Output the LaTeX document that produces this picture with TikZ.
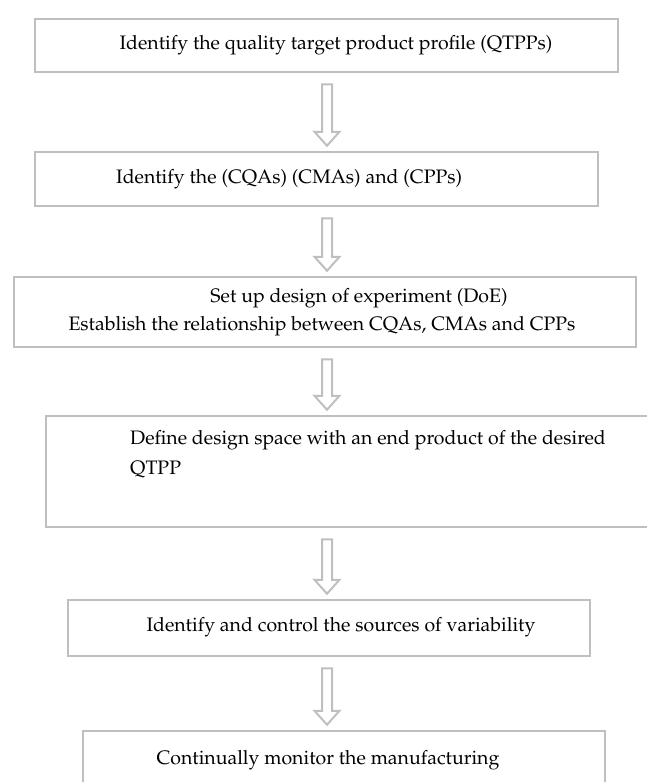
\documentclass[tikz,border=0pt]{standalone}
\usepackage[T1]{fontenc}
\usepackage{mathpazo}
\usetikzlibrary{calc}

\newcommand{\flowarrow}[2]{%
  \draw[arrowline] ($(#1.south -| axis)+(-5,11)$) -- ($(#2.north -| axis)+(-5,-19)$)
    -- ++(-7.5,0) -- ($(#2.north -| axis)+(0,-5)$) -- ++(12.5,-14) -- ++(-7.5,0)
    -- ($(#1.south -| axis)+(5,11)$) -- cycle;}

\begin{document}
\begin{tikzpicture}[x=1pt,y=-1pt,font=\fontsize{19.5}{23}\selectfont,
    flowbox/.style={draw=black!25,line width=2.5pt,inner sep=0pt},
    arrowline/.style={draw=black!25,line width=2pt,line join=miter},
    boxtext/.style={inner sep=0pt,text=black}]
  \useasboundingbox (0,0) rectangle (646,782);
  \coordinate (axis) at (327,0);
  \node[flowbox,minimum width=583,minimum height=53] (b1) at (326.5,45.5) {};
  \node[flowbox,minimum width=563,minimum height=54] (b2) at (316.5,179) {};
  \node[flowbox,minimum width=622,minimum height=70] (b3) at (325,312) {};
  \node[flowbox,minimum width=614,minimum height=111] (b4) at (353,471.5) {};
  \node[flowbox,minimum width=522,minimum height=56] (b5) at (329,628) {};
  \node[flowbox,minimum width=522,minimum height=69] (b6) at (344,765.5) {};
  \node[boxtext] (t1) at (336,45) {Identify the quality target product profile (QTPPs)};
  \node[boxtext,anchor=west] (t2) at (116,179) {Identify the (CQAs) (CMAs) and (CPPs)};
  \node[boxtext] (t3a) at (359,298) {Set up design of experiment (DoE)};
  \node[boxtext] (t3b) at (322,326) {Establish the relationship between CQAs, CMAs and CPPs};
  \node[boxtext,anchor=west] (t4a) at (130,440) {Define design space with an end product of the desired};
  \node[boxtext,anchor=west] (t4b) at (130,470) {QTPP};
  \node[boxtext] (t5) at (341,627) {Identify and control the sources of variability};
  \node[boxtext] (t6) at (328,760) {Continually monitor the manufacturing};
  \flowarrow{b1}{b2}
  \flowarrow{b2}{b3}
  \flowarrow{b3}{b4}
  \flowarrow{b4}{b5}
  \flowarrow{b5}{b6}
\end{tikzpicture}
\end{document}
